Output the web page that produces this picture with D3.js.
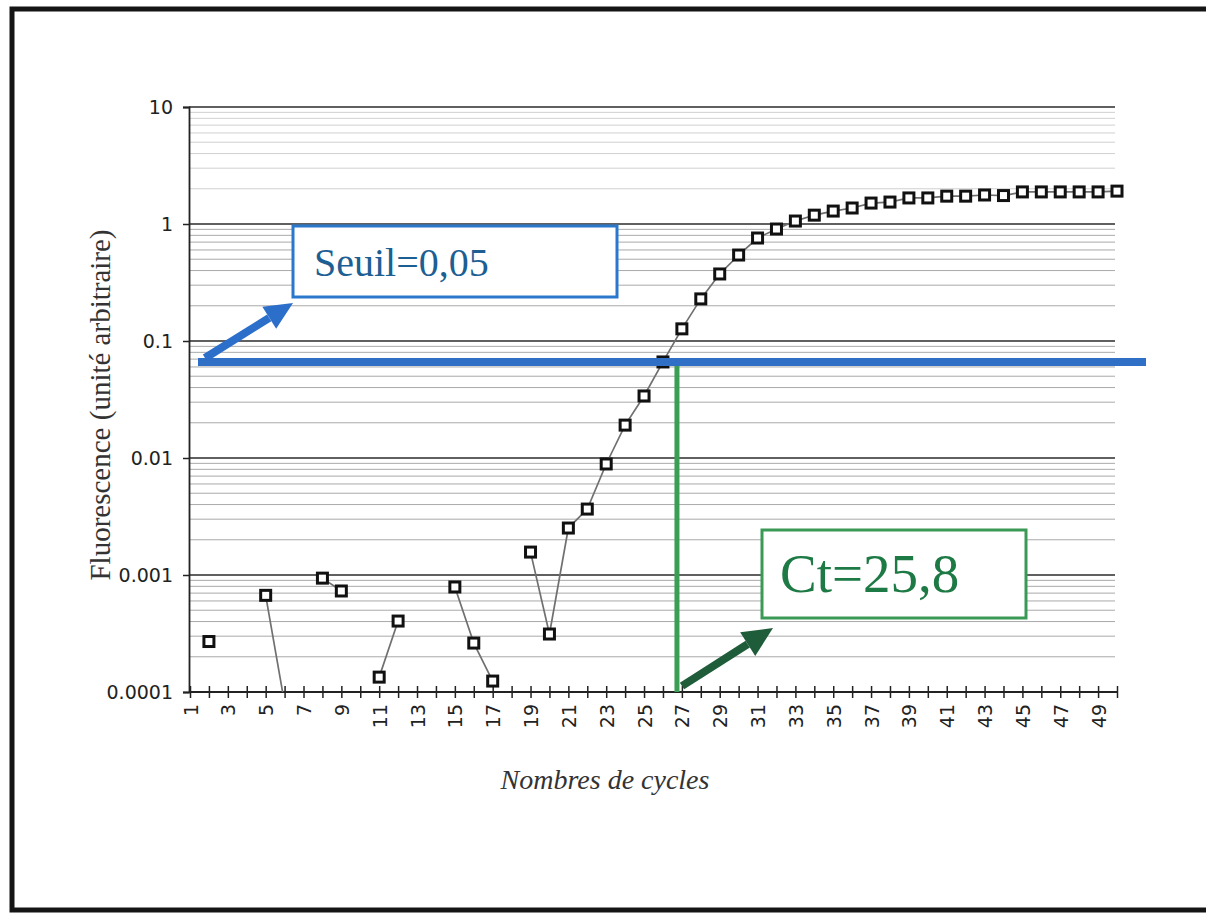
<!DOCTYPE html>
<html>
<head>
<meta charset="utf-8">
<script src="https://cdn.jsdelivr.net/npm/d3@7"></script>
<style>
  body { margin: 0; background: #fff; }
  svg { display: block; }
</style>
</head>
<body>
<div id="chart"></div>
<script>
// data
const cycles = [1,2,3,4,5,6,7,8,9,10,11,12,13,14,15,16,17,18,19,20,21,22,23,24,25,
  26,27,28,29,30,31,32,33,34,35,36,37,38,39,40,41,42,43,44,45,46,47,48,49,50];
const fluo = [null, 0.00027, null, null, 0.00067, 0.00008, null, 0.00094, 0.00073, null,
  0.000134, 0.000404, null, null, 0.00079, 0.000262, 0.000124, null, 0.00157, 0.000313,
  0.00252, 0.00366, 0.00889, 0.0191, 0.0339, 0.0662, 0.127, 0.229, 0.374, 0.543,
  0.759, 0.906, 1.06, 1.19, 1.29, 1.37, 1.51, 1.54, 1.67, 1.67,
  1.73, 1.73, 1.77, 1.75, 1.88, 1.88, 1.88, 1.88, 1.88, 1.91];
const yTicks = [0.0001, 0.001, 0.01, 0.1, 1, 10];
const yTickLabels = ["0.0001", "0.001", "0.01", "0.1", "1", "10"];
const seuilValue = 0.066;   // where the threshold line is drawn
const ctCycle = 26.74;      // where the Ct line is drawn
const seuilText = "Seuil=0,05";
const ctText = "Ct=25,8";

var svgWidth = 1206;
var svgHeight = 913;

var svg = d3.select("#chart")
  .append("svg")
  .attr("width", svgWidth)
  .attr("height", svgHeight);

// scanned frame
svg.append("rect")
  .attr("x", 12).attr("y", 9)
  .attr("width", 1210).attr("height", 901)
  .attr("fill", "none")
  .attr("stroke", "#151515")
  .attr("stroke-width", 5);

// scales
var xScale = d3.scaleLinear().domain([1, 50]).range([190, 1117]);
var yScale = d3.scaleLog().domain([0.0001, 10]).range([692, 107]);

var left = 189, right = 1115;

// gridlines
var minor = [];
[0.0001, 0.001, 0.01, 0.1, 1].forEach(d => {
  for (let m = 2; m <= 9; m++) minor.push(d * m);
});
svg.append("g").selectAll("line")
  .data(minor)
  .enter().append("line")
  .attr("x1", left).attr("x2", right)
  .attr("y1", d => yScale(d)).attr("y2", d => yScale(d))
  .attr("stroke", d => d >= 1 ? "#d0d0d0" : "#a9a9a9")
  .attr("stroke-width", 1);

svg.append("g").selectAll("line")
  .data(yTicks.slice(1))
  .enter().append("line")
  .attr("x1", left).attr("x2", right)
  .attr("y1", d => yScale(d)).attr("y2", d => yScale(d))
  .attr("stroke", "#2b2b2b")
  .attr("stroke-width", 1.6);

// y axis
var yAxis = d3.axisLeft(yScale)
  .tickValues(yTicks)
  .tickFormat((d, i) => yTickLabels[i])
  .tickSize(6)
  .tickPadding(10);

var yG = svg.append("g")
  .attr("transform", `translate(${left}, 0)`)
  .call(yAxis);
yG.select(".domain").attr("stroke", "#222").attr("stroke-width", 1.8);
yG.selectAll(".tick line").attr("stroke", "#222").attr("stroke-width", 1.5);
yG.selectAll("text")
  .attr("font-family", "DejaVu Sans")
  .attr("font-size", "19px")
  .attr("fill", "#222");

// x axis
var xAxis = d3.axisBottom(xScale)
  .tickValues(cycles)
  .tickFormat(d => d % 2 === 1 ? d : "")
  .tickSize(6)
  .tickSizeOuter(0);

var xG = svg.append("g")
  .attr("transform", "translate(0, 692)")
  .call(xAxis);
xG.select(".domain").attr("stroke", "#222").attr("stroke-width", 1.8)
  .attr("d", `M${left},0H1118`);
xG.selectAll(".tick line")
  .attr("y1", -6).attr("y2", 6)
  .attr("stroke", "#222").attr("stroke-width", 1.5);
xG.selectAll("text")
  .attr("font-family", "DejaVu Sans")
  .attr("font-size", "19px")
  .attr("fill", "#222")
  .attr("text-anchor", "end")
  .attr("dy", null)
  .attr("y", 0)
  .attr("dominant-baseline", "central")
  .attr("transform", "translate(0, 12) rotate(-90)");

// axis titles
svg.append("text")
  .attr("text-anchor", "middle")
  .attr("dominant-baseline", "central")
  .attr("transform", "translate(100, 405) rotate(-90)")
  .attr("font-family", "Liberation Serif")
  .attr("font-size", "29px")
  .attr("fill", "#333")
  .text("Fluorescence (unité arbitraire)");

svg.append("text")
  .attr("text-anchor", "middle")
  .attr("x", 605).attr("y", 789)
  .attr("font-family", "Liberation Serif")
  .attr("font-style", "italic")
  .attr("font-size", "28px")
  .attr("fill", "#333")
  .text("Nombres de cycles");

// data
var points = cycles.map((c, i) => ({ c: c, v: fluo[i] }));

svg.append("clipPath").attr("id", "plotclip")
  .append("rect")
  .attr("x", 175).attr("y", 95)
  .attr("width", 960).attr("height", 597);

var plot = svg.append("g").attr("clip-path", "url(#plotclip)");

var line = d3.line()
  .defined(d => d.v != null)
  .x(d => xScale(d.c))
  .y(d => yScale(d.v));

plot.append("path")
  .datum(points)
  .attr("d", line)
  .attr("fill", "none")
  .attr("stroke", "#707070")
  .attr("stroke-width", 1.7);

plot.selectAll("rect.pt")
  .data(points.filter(d => d.v != null))
  .enter().append("rect")
  .attr("class", "pt")
  .attr("x", d => xScale(d.c) - 5)
  .attr("y", d => yScale(d.v) - 5)
  .attr("width", 10).attr("height", 10)
  .attr("fill", "#fff")
  .attr("stroke", "#111")
  .attr("stroke-width", 3);

// threshold line
svg.append("line")
  .attr("x1", 198).attr("x2", 1146)
  .attr("y1", yScale(seuilValue)).attr("y2", yScale(seuilValue))
  .attr("stroke", "#2f6fc6")
  .attr("stroke-width", 8);

// Ct line
svg.append("line")
  .attr("x1", xScale(ctCycle)).attr("x2", xScale(ctCycle))
  .attr("y1", yScale(seuilValue) + 4).attr("y2", 692)
  .attr("stroke", "#3a9f55")
  .attr("stroke-width", 5);

function arrow(x1, y1, x2, y2, color, w, headLen, headW) {
  var a = Math.atan2(y2 - y1, x2 - x1);
  var bx = x2 - headLen * Math.cos(a), by = y2 - headLen * Math.sin(a);
  var px = Math.sin(a) * headW / 2, py = -Math.cos(a) * headW / 2;
  svg.append("line")
    .attr("x1", x1).attr("y1", y1).attr("x2", bx).attr("y2", by)
    .attr("stroke", color).attr("stroke-width", w);
  svg.append("polygon")
    .attr("points", `${x2},${y2} ${bx + px},${by + py} ${bx - px},${by - py}`)
    .attr("fill", color);
}

// Seuil box
svg.append("rect")
  .attr("x", 293).attr("y", 226)
  .attr("width", 324).attr("height", 71)
  .attr("fill", "#fff")
  .attr("stroke", "#2a78cc")
  .attr("stroke-width", 3);
svg.append("text")
  .attr("x", 314).attr("y", 276)
  .attr("font-family", "Liberation Serif")
  .attr("font-size", "40px")
  .attr("fill", "#1d5f93")
  .text(seuilText);
arrow(205, 358, 293, 303, "#2b6fca", 8, 28, 26);

// Ct box
svg.append("rect")
  .attr("x", 762).attr("y", 530)
  .attr("width", 264).attr("height", 88)
  .attr("fill", "#fff")
  .attr("stroke", "#3a9a55")
  .attr("stroke-width", 3);
svg.append("text")
  .attr("x", 780).attr("y", 592)
  .attr("font-family", "Liberation Serif")
  .attr("font-size", "55px")
  .attr("fill", "#1e7a45")
  .text(ctText);
arrow(682, 686, 773, 628, "#1f5c3a", 8, 30, 28);
</script>
</body>
</html>
